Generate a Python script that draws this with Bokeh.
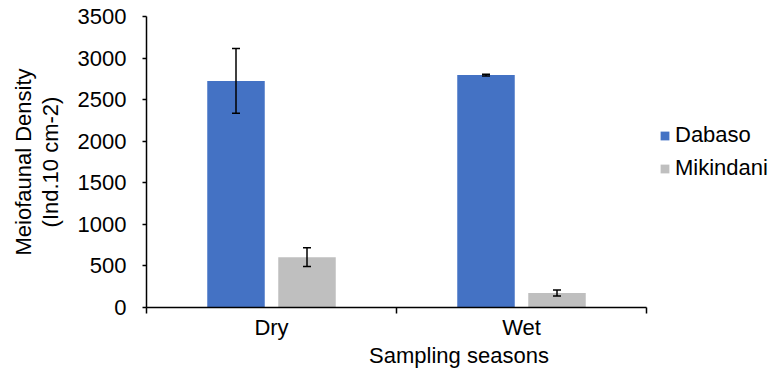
from bokeh.plotting import figure
from bokeh.models import (Range1d, FixedTicker, ColumnDataSource, Whisker, Legend,
                          LegendItem, TeeHead)
from bokeh.embed import file_html
from bokeh.resources import INLINE

seasons = ["Dry", "Wet"]
dabaso = [2725, 2795]
dabaso_err = [390, 10]
mikindani = [605, 175]
mikindani_err = [113, 36]
y_ticks = [0, 500, 1000, 1500, 2000, 2500, 3000, 3500]

FONT = "Liberation Sans"
FS = "22px"
offset = 0.142
bar_w = 0.23

n = len(seasons)
centers = [i + 0.5 for i in range(n)]
src = ColumnDataSource(dict(
    xd=[c - offset for c in centers],
    xm=[c + offset for c in centers],
    d=dabaso, m=mikindani,
    d_lo=[v - e for v, e in zip(dabaso, dabaso_err)],
    d_hi=[v + e for v, e in zip(dabaso, dabaso_err)],
    m_lo=[v - e for v, e in zip(mikindani, mikindani_err)],
    m_hi=[v + e for v, e in zip(mikindani, mikindani_err)],
))

# frame spans 625px; categories occupy the first 500px, legend sits in the rest
p = figure(width=771, height=371, x_range=Range1d(0, n * 625 / 500),
           y_range=Range1d(0, 3500), output_backend="svg", toolbar_location=None,
           min_border_left=146, min_border_right=0, min_border_top=16,
           min_border_bottom=64)
p.outline_line_color = None
p.xgrid.visible = False
p.ygrid.visible = False
p.background_fill_color = "white"

r1 = p.vbar(x="xd", top="d", width=bar_w, source=src, fill_color="#4472C4",
            line_color=None)
r2 = p.vbar(x="xm", top="m", width=bar_w, source=src, fill_color="#BFBFBF",
            line_color=None)

for lo, hi, base in (("d_lo", "d_hi", "xd"), ("m_lo", "m_hi", "xm")):
    w = Whisker(base=base, lower=lo, upper=hi, source=src, line_color="black",
                line_width=1.5, level="overlay",
                upper_head=TeeHead(size=8, line_width=1.5, line_color="black"),
                lower_head=TeeHead(size=8, line_width=1.5, line_color="black"))
    p.add_layout(w)

# x axis: ticks at category boundaries, labels at centers
p.xaxis.bounds = (0, n)
p.xaxis.ticker = FixedTicker(ticks=centers, minor_ticks=list(range(n + 1)))
p.xaxis.major_label_overrides = {c: s for c, s in zip(centers, seasons)}
p.xaxis.major_tick_out = 0
p.xaxis.major_tick_in = 0
p.xaxis.minor_tick_out = 6
p.xaxis.minor_tick_in = 0
p.xaxis.minor_tick_line_color = "black"
p.xaxis.minor_tick_line_width = 1.5
p.xaxis.axis_line_color = "black"
p.xaxis.axis_line_width = 1.5
p.xaxis.axis_label = "Sampling seasons"
p.xaxis.major_label_standoff = 1
p.xaxis.axis_label_standoff = 0

p.yaxis.ticker = FixedTicker(ticks=y_ticks)
p.yaxis.minor_tick_line_color = None
p.yaxis.major_tick_out = 4
p.yaxis.major_tick_in = 0
p.yaxis.major_tick_line_color = "black"
p.yaxis.major_tick_line_width = 1.5
p.yaxis.axis_line_color = "black"
p.yaxis.axis_line_width = 1.5
p.yaxis.axis_label = "Meiofaunal Density\n(Ind.10 cm-2)"
p.yaxis.major_label_standoff = 16
p.yaxis.axis_label_standoff = 12
p.yaxis.axis_label_text_line_height = 1.05

for ax in (p.xaxis[0], p.yaxis[0]):
    ax.major_label_text_font = FONT
    ax.major_label_text_font_size = FS
    ax.major_label_text_color = "black"
    ax.axis_label_text_font = FONT
    ax.axis_label_text_font_size = FS
    ax.axis_label_text_font_style = "normal"
    ax.axis_label_text_color = "black"

legend = Legend(items=[LegendItem(label="Dabaso", renderers=[r1]),
                       LegendItem(label="Mikindani", renderers=[r2])],
                location=(513, 126), glyph_width=11, glyph_height=11,
                label_text_font=FONT, label_text_font_size=FS,
                label_text_color="black", spacing=7, padding=0, margin=0,
                label_standoff=5, border_line_color=None,
                background_fill_alpha=0)
p.add_layout(legend)

open("out.html", "w").write(file_html(p, INLINE))
